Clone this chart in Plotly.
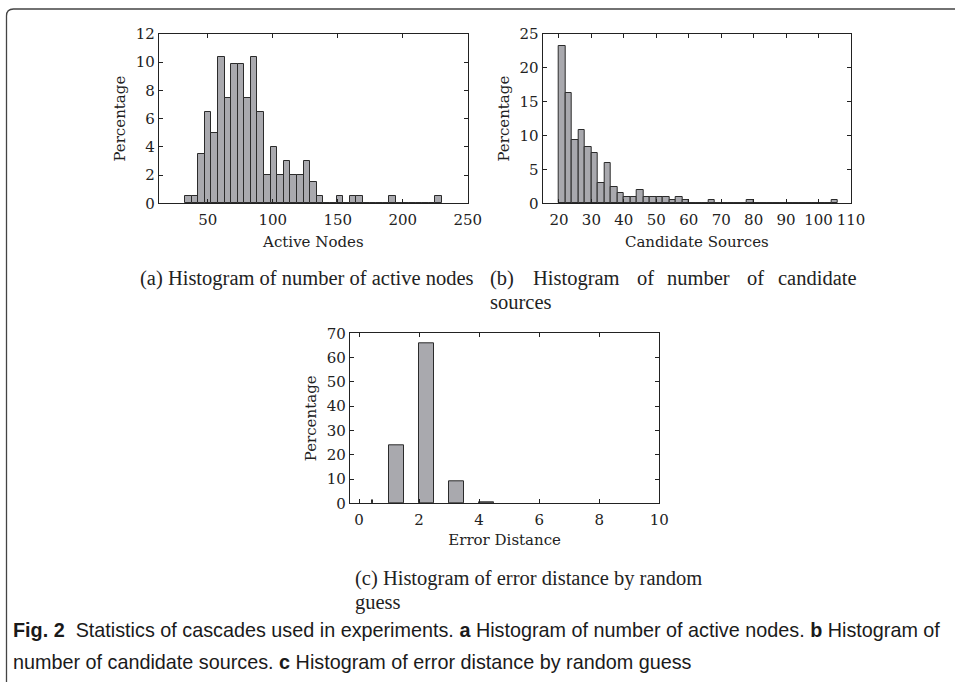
import plotly.graph_objects as go

W, H = 955, 682

# ---------------- data ----------------
# (a) Active nodes histogram
a_bin_start = 32.5
a_bin_width = 5.07
a_percent = [0.495, 0.495, 3.47, 6.44, 4.95, 10.4, 7.43, 9.9, 9.9, 7.43,
             10.4, 6.44, 1.98, 3.96, 1.98, 2.97, 1.98, 1.98, 2.97, 1.49,
             0.495, 0, 0, 0.495, 0, 0.495, 0.495, 0, 0, 0,
             0, 0.495, 0, 0, 0, 0, 0, 0, 0.495]
a_xticks = [50, 100, 150, 200, 250]
a_yticks = [0, 2, 4, 6, 8, 10, 12]

# (b) Candidate sources histogram
b_bin_start = 20.0
b_bin_width = 2.0
b_percent = [23.2, 16.3, 9.36, 10.84, 8.37, 7.39, 2.96, 5.91, 2.46, 1.48,
             0.99, 0.99, 1.97, 0.99, 0.99, 0.99, 0.99, 0.49, 0.99, 0.49,
             0, 0, 0, 0.49, 0, 0, 0, 0, 0, 0.49,
             0, 0, 0, 0, 0, 0, 0, 0, 0, 0,
             0, 0, 0.49]
b_xticks = [20, 30, 40, 50, 60, 70, 80, 90, 100, 110]
b_yticks = [0, 5, 10, 15, 20, 25]

# (c) Error distance histogram
c_bin_left = [1, 2, 3, 4]
c_bin_width = 0.5
c_percent = [23.9, 65.9, 9.1, 0.35]
c_stub_x = [0.45]
c_stub_percent = [1.4]
c_xticks = [0, 2, 4, 6, 8, 10]
c_yticks = [0, 10, 20, 30, 40, 50, 60, 70]

# ---------------- styling ----------------
BAR_FILL = "#a9a9ae"
BAR_EDGE = "#2b2b2b"
INK = "#222222"
TICK_FONT = dict(family="DejaVu Serif", size=15, color=INK)
CAP_FONT = dict(family="Liberation Serif", size=20.5, color=INK)

def px_x(p):
    return p / W

def px_y(p):
    return 1 - p / H

fig = go.Figure()

def add_hist(start, width, vals, xa, ya):
    centers = [start + (i + 0.5) * width for i in range(len(vals))]
    fig.add_trace(go.Bar(x=centers, y=vals, width=width,
                         marker=dict(color=BAR_FILL, line=dict(color=BAR_EDGE, width=1)),
                         xaxis=xa, yaxis=ya, showlegend=False, hoverinfo="x+y"))

add_hist(a_bin_start, a_bin_width, a_percent, "x", "y")
add_hist(b_bin_start, b_bin_width, b_percent, "x2", "y2")
fig.add_trace(go.Bar(x=[l + c_bin_width / 2 for l in c_bin_left], y=c_percent, width=c_bin_width,
                     marker=dict(color=BAR_FILL, line=dict(color=BAR_EDGE, width=1)),
                     xaxis="x3", yaxis="y3", showlegend=False))
fig.add_trace(go.Bar(x=c_stub_x, y=c_stub_percent, width=0.02,
                     marker=dict(color=BAR_EDGE, line=dict(color=BAR_EDGE, width=1)),
                     xaxis="x3", yaxis="y3", showlegend=False))

def axis_common(**kw):
    d = dict(showline=True, linecolor=INK, linewidth=1.3, mirror="ticks",
             ticks="inside", ticklen=4, tickwidth=1, tickcolor=INK,
             showgrid=False, zeroline=False, tickfont=TICK_FONT, automargin=False)
    d.update(kw)
    return d

xa_dom = [px_x(159), px_x(467.7)]
xb_dom = [px_x(542.7), px_x(851)]
xc_dom = [px_x(350), px_x(659.3)]
yab_dom = [px_y(203.3), px_y(34)]
yc_dom = [px_y(503.3), px_y(333.3)]

XT = dict(font=TICK_FONT, standoff=8)
YT = dict(font=TICK_FONT, standoff=6)

fig.update_layout(
    width=W, height=H, margin=dict(l=0, r=0, t=0, b=0, pad=0, autoexpand=False),
    paper_bgcolor="white", plot_bgcolor="white", bargap=0,
    xaxis=axis_common(domain=xa_dom, range=[12.5, 250], tickvals=a_xticks, anchor="y",
                      ticklabelstandoff=3, title=dict(text="Active Nodes", **XT)),
    yaxis=axis_common(domain=yab_dom, range=[0, 12], tickvals=a_yticks, anchor="x",
                      title=dict(text="Percentage", **YT)),
    xaxis2=axis_common(domain=xb_dom, range=[15, 110], tickvals=b_xticks, anchor="y2",
                       ticklabelstandoff=3, title=dict(text="Candidate Sources", **XT)),
    yaxis2=axis_common(domain=yab_dom, range=[0, 25], tickvals=b_yticks, anchor="x2",
                       title=dict(text="Percentage", **YT)),
    xaxis3=axis_common(domain=xc_dom, range=[-0.3, 10], tickvals=c_xticks, anchor="y3",
                       ticklabelstandoff=3, title=dict(text="Error Distance", font=TICK_FONT, standoff=6)),
    yaxis3=axis_common(domain=yc_dom, range=[0, 70], tickvals=c_yticks, anchor="x3",
                       title=dict(text="Percentage", **YT)),
)

# ---------------- captions ----------------
ann = []
def text(x, y, s, font, xanchor="left"):
    ann.append(dict(x=px_x(x), y=px_y(y), xref="paper", yref="paper", text=s,
                    showarrow=False, xanchor=xanchor, yanchor="middle", font=font))

text(307, 278, "(a) Histogram of number of active nodes", CAP_FONT, xanchor="center")
for wx, w in [(490, "(b)"), (533, "Histogram"), (637, "of"), (667, "number"),
              (747, "of"), (778, "candidate")]:
    text(wx - 2, 278, w, CAP_FONT)
text(488, 302, "sources", CAP_FONT)
text(353, 578, "(c) Histogram of error distance by random", CAP_FONT)
text(353, 602, "guess", CAP_FONT)

FIG_FONT = dict(family="Liberation Sans, sans-serif", size=19.8, color="#1a1a1a")
text(11, 630, "<b>Fig. 2</b>  Statistics of cascades used in experiments. <b>a</b> Histogram of number of active nodes. <b>b</b> Histogram of", FIG_FONT)
text(11, 662, "number of candidate sources. <b>c</b> Histogram of error distance by random guess", FIG_FONT)

fig.update_layout(annotations=ann)

# outer rounded frame
x0 = px_x(6.5)
yt = px_y(9)
rx, ry = 7 / W, 7 / H
fig.add_shape(type="path", xref="paper", yref="paper",
              path=f"M {x0},-0.05 L {x0},{yt - ry} Q {x0},{yt} {x0 + rx},{yt} L 1.05,{yt}",
              line=dict(color="#444444", width=1.3))

fig.write_html("out.html")
